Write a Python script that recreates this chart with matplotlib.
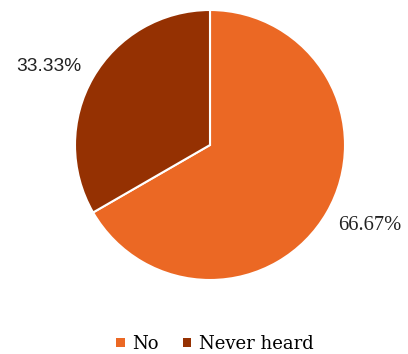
import numpy as np
import matplotlib
matplotlib.use("Agg")
import matplotlib.pyplot as plt
from matplotlib.patches import Patch

categories = ["No", "Never heard"]
values = [66.67, 33.33]
colors = ["#EB6824", "#953102"]

fig = plt.figure(figsize=(4.08, 3.54), dpi=100)
ax = fig.add_axes([75/408, 1-280/354, 270/408, 270/354])
wedges, _ = ax.pie(values, colors=colors, startangle=90, counterclock=False,
                   radius=1.0, wedgeprops=dict(edgecolor="white", linewidth=1.5))
ax.set_xlim(-1, 1)
ax.set_ylim(-1, 1)
ax.set_aspect("equal")

label_specs = [
    dict(dist=1.328, family="Liberation Serif", size=14.8, dang=3.15),
    dict(dist=1.329, family="Liberation Sans", size=13.8, dang=3.9),
]
for w, v, spec in zip(wedges, values, label_specs):
    ang = np.deg2rad((w.theta1 + w.theta2) / 2 + spec["dang"])
    ax.text(spec["dist"] * np.cos(ang), spec["dist"] * np.sin(ang), f"{v:.2f}%",
            ha="center", va="center", fontsize=spec["size"], family=spec["family"],
            color="#222222", clip_on=False)

handles = [Patch(facecolor=c, edgecolor="none") for c in colors]
fig.legend(handles, categories, loc="center", bbox_to_anchor=(215/408, 1-344/354),
           ncol=2, frameon=False, handlelength=0.45, handleheight=0.45,
           handletextpad=0.45, columnspacing=1.3, borderpad=0,
           prop=dict(family="DejaVu Serif", size=13))

fig.savefig("out.png", dpi=100)
